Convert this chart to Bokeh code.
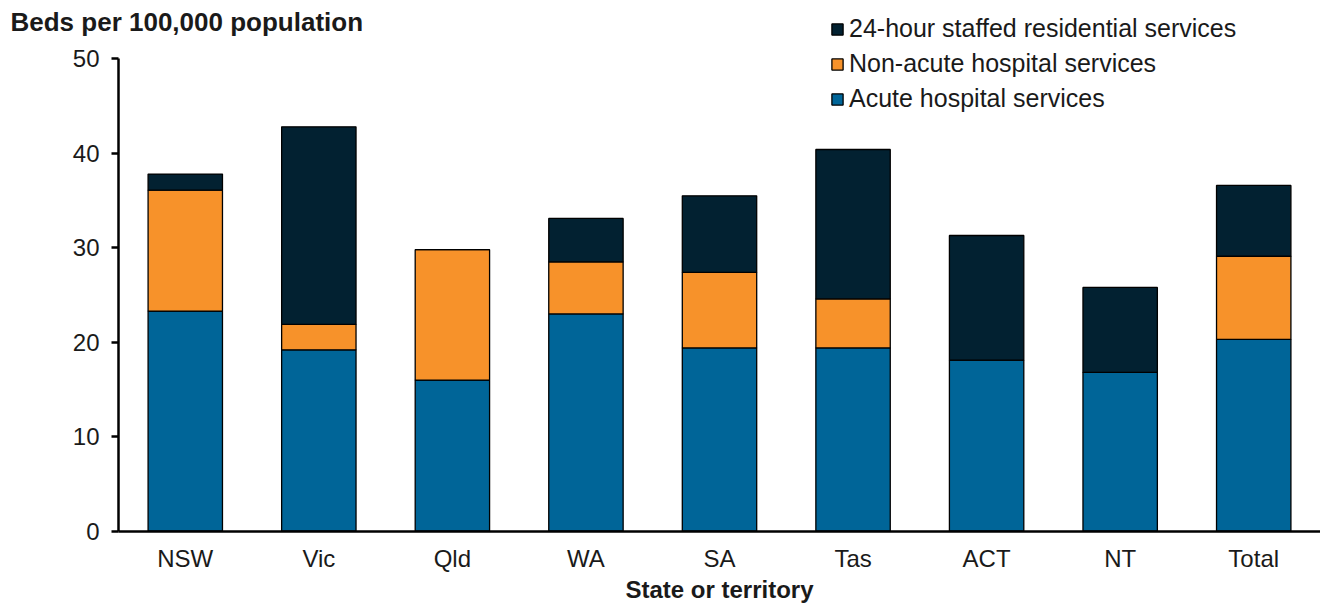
from bokeh.plotting import figure
from bokeh.models import Range1d, Legend, LegendItem, Label, FixedTicker
from bokeh.embed import file_html
from bokeh.resources import INLINE

states = ["NSW", "Vic", "Qld", "WA", "SA", "Tas", "ACT", "NT", "Total"]
acute = [23.3, 19.2, 16.0, 23.0, 19.4, 19.4, 18.1, 16.8, 20.3]
non_acute = [12.8, 2.7, 13.8, 5.5, 8.0, 5.2, 0.0, 0.0, 8.8]
residential = [1.7, 20.9, 0.0, 4.6, 8.1, 15.8, 13.2, 9.0, 7.5]
series = ["Acute hospital services", "Non-acute hospital services", "24-hour staffed residential services"]
colors = ["#006598", "#F7922A", "#022131"]
y_ticks = [0, 10, 20, 30, 40, 50]

FONT = "Liberation Sans"
TXT = "#1a1a1a"

W, H = 1320, 605
LEFT = 118          # pixel position of the y axis
ZERO = 530.7        # pixel position of the x axis
PX = 472.4 / 50     # pixels per unit on the y axis
n = len(states)
band = (W - LEFT) / n
x_pos = [i + 0.5 for i in range(n)]

p = figure(width=W, height=H,
           x_range=Range1d(-LEFT / band, n),
           y_range=Range1d(-(H - ZERO) / PX, ZERO / PX),
           output_backend="svg", toolbar_location=None,
           min_border_left=0, min_border_right=0, min_border_top=0, min_border_bottom=0)
p.outline_line_color = None
p.grid.grid_line_color = None

data = dict(x=x_pos, acute=acute, non_acute=non_acute, residential=residential)
renderers = p.vbar_stack(["acute", "non_acute", "residential"], x="x", width=0.557,
                         source=data, color=colors, line_color="black", line_width=1.3)

# axes drawn at x = 0 and y = 0
p.yaxis.fixed_location = 0
p.yaxis.bounds = (0, 50)
p.yaxis.ticker = FixedTicker(ticks=y_ticks)
p.yaxis.minor_tick_line_color = None
p.yaxis.major_tick_out = 7
p.yaxis.major_tick_in = 0
p.yaxis.major_label_standoff = 12

p.xaxis.fixed_location = 0
p.xaxis.bounds = (0, n)
p.xaxis.ticker = FixedTicker(ticks=x_pos)
p.xaxis.major_label_overrides = {x: s for x, s in zip(x_pos, states)}
p.xaxis.minor_tick_line_color = None
p.xaxis.major_tick_line_color = None
p.xaxis.major_tick_out = 0
p.xaxis.major_tick_in = 0
p.xaxis.major_label_standoff = 14

for ax in (p.xaxis, p.yaxis):
    ax.axis_line_width = 2.5
    ax.axis_line_color = "black"
    ax.major_tick_line_width = 2.5
    ax.major_label_text_font = FONT
    ax.major_label_text_font_size = "24px"
    ax.major_label_text_color = TXT

p.xaxis.axis_label = "State or territory"
p.xaxis.axis_label_text_font = FONT
p.xaxis.axis_label_text_font_style = "bold"
p.xaxis.axis_label_text_font_size = "24px"
p.xaxis.axis_label_standoff = 0
p.xaxis.axis_label_text_color = TXT

items = [LegendItem(label=series[i], renderers=[renderers[i]]) for i in (2, 1, 0)]
legend = Legend(items=items, location=(830, H - 113), orientation="vertical",
                label_text_font=FONT, label_text_font_size="25px", label_text_color=TXT,
                glyph_width=14, glyph_height=14, label_standoff=5, spacing=6,
                padding=0, margin=0, border_line_color=None, background_fill_alpha=0,
                label_height=28)
p.add_layout(legend, "center")

title = Label(x=10, y=H - 21, x_units="screen", y_units="screen",
              text="Beds per 100,000 population", text_font=FONT,
              text_font_style="bold", text_font_size="26px", text_color=TXT,
              text_baseline="middle")
p.add_layout(title)

open("out.html", "w").write(file_html(p, INLINE))
